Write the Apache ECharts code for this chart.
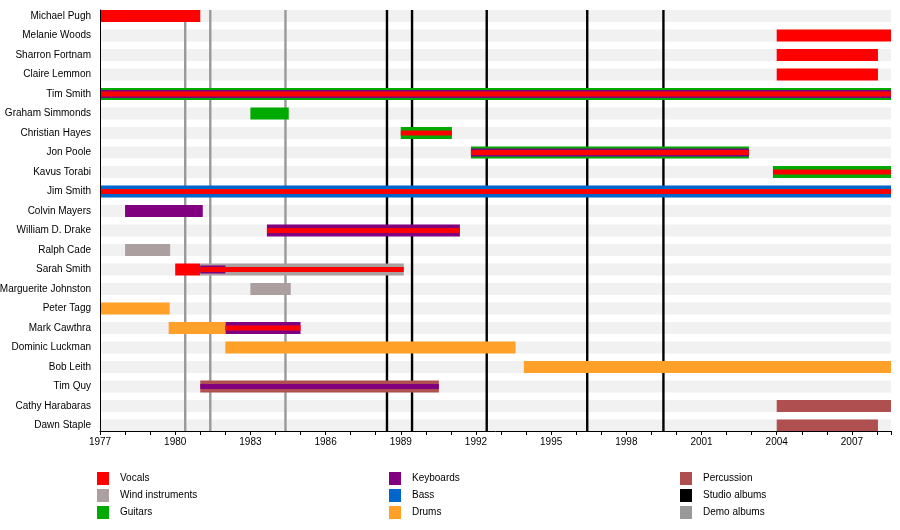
<!DOCTYPE html>
<html>
<head>
<meta charset="utf-8">
<script src="https://cdn.jsdelivr.net/npm/echarts@6/dist/echarts.min.js"></script>
<style>
html,body{margin:0;padding:0;background:#fff;}
#chart{width:900px;height:530px;}
</style>
</head>
<body>
<div id="chart"></div>
<script>
// ---- data ----
const START = 1977;
const END = 2008.56;
const members = ["Michael Pugh","Melanie Woods","Sharron Fortnam","Claire Lemmon","Tim Smith",
  "Graham Simmonds","Christian Hayes","Jon Poole","Kavus Torabi","Jim Smith","Colvin Mayers",
  "William D. Drake","Ralph Cade","Sarah Smith","Marguerite Johnston","Peter Tagg","Mark Cawthra",
  "Dominic Luckman","Bob Leith","Tim Quy","Cathy Harabaras","Dawn Staple"];
const yearTicks = [1977,1980,1983,1986,1989,1992,1995,1998,2001,2004,2007];

// [member, from, to, layer]  layer: 0 = main bar, 1 = middle stripe, 2 = centre stripe
const vocals = [
  ["Michael Pugh",1977,1981.0,0],
  ["Melanie Woods",2004.0,END,0],
  ["Sharron Fortnam",2004.0,2008.04,0],
  ["Claire Lemmon",2004.0,2008.04,0],
  ["Tim Smith",1977,END,2],
  ["Christian Hayes",1989.0,1991.04,2],
  ["Jon Poole",1991.8,2002.89,2],
  ["Kavus Torabi",2003.85,END,2],
  ["Jim Smith",1977,END,2],
  ["William D. Drake",1983.66,1991.36,2],
  ["Sarah Smith",1980.0,1981.0,0],
  ["Sarah Smith",1981.0,1989.12,2],
  ["Mark Cawthra",1982.0,1985.0,2]
];
const wind = [
  ["Ralph Cade",1978.0,1979.8,0],
  ["Sarah Smith",1981.0,1989.12,0],
  ["Marguerite Johnston",1983.0,1984.61,0]
];
const guitars = [
  ["Tim Smith",1977,END,0],
  ["Graham Simmonds",1983.0,1984.53,0],
  ["Christian Hayes",1989.0,1991.04,0],
  ["Jon Poole",1991.8,2002.89,0],
  ["Kavus Torabi",2003.85,END,0]
];
const keyboards = [
  ["Tim Smith",1977,END,1],
  ["Jon Poole",1991.8,2002.89,1],
  ["Colvin Mayers",1978.0,1981.1,0],
  ["William D. Drake",1983.66,1991.36,0],
  ["Sarah Smith",1981.0,1982.0,1],
  ["Mark Cawthra",1982.0,1985.0,0],
  ["Tim Quy",1981.0,1990.52,2]
];
const bass = [
  ["Jim Smith",1977,END,0]
];
const drums = [
  ["Peter Tagg",1977,1979.78,0],
  ["Mark Cawthra",1979.74,1982.0,0],
  ["Dominic Luckman",1982.0,1993.58,0],
  ["Bob Leith",1993.91,END,0]
];
const percussion = [
  ["Tim Quy",1981.0,1990.52,0],
  ["Cathy Harabaras",2004.0,END,0],
  ["Dawn Staple",2004.0,2008.04,0]
];
const studioAlbums = [1988.45,1989.45,1992.43,1996.44,1999.48];
const demoAlbums = [1980.4,1981.4,1984.4];

// ---- styling ----
const FONT = "'Liberation Sans', Arial, Helvetica, sans-serif";
const LAYER_H = [12, 8, 5];
const instruments = [
  {name:"Vocals", data:vocals, color:"#ff0000"},
  {name:"Wind instruments", data:wind, color:"#ab9f9f"},
  {name:"Guitars", data:guitars, color:"#00aa00"},
  {name:"Keyboards", data:keyboards, color:"#800080"},
  {name:"Bass", data:bass, color:"#0066cc"},
  {name:"Drums", data:drums, color:"#ffa028"},
  {name:"Percussion", data:percussion, color:"#b04f4f"}
];

function toRows(list){
  return list.map(d => [members.indexOf(d[0]), d[1], d[2], d[3]]);
}

function barRender(color){
  return function(params, api){
    const r = api.value(0), s = api.value(1), e = api.value(2), layer = api.value(3);
    const p0 = api.coord([s, r]);
    const p1 = api.coord([e, r]);
    const h = LAYER_H[layer];
    return {
      type:'rect',
      shape:{x:p0[0], y:p0[1]-h/2, width:p1[0]-p0[0], height:h},
      style:{fill:color},
      z2: layer*10 + 5
    };
  };
}

function albumRender(color){
  return function(params, api){
    const x = api.value(0);
    const a = api.coord([x, 0]);
    const b = api.coord([x, 1]);
    return {type:'line', shape:{x1:a[0], y1:a[1], x2:b[0], y2:b[1]},
      style:{stroke:color, lineWidth:2.4}};
  };
}

const series = [];
// background stripes
series.push({
  type:'custom', name:'bg', xAxisIndex:0, yAxisIndex:0, z:1, silent:true,
  encode:{x:[1,2], y:0},
  data: members.map((m,i) => [i, START, END, 0]),
  renderItem: barRender('#f1f1f1')
});
// album lines
series.push({
  type:'custom', name:'Studio albums', xAxisIndex:1, yAxisIndex:1, z:2, silent:true,
  itemStyle:{color:'#000000'}, encode:{x:0},
  data: studioAlbums.map(v => [v]),
  renderItem: albumRender('#000000')
});
series.push({
  type:'custom', name:'Demo albums', xAxisIndex:1, yAxisIndex:1, z:2, silent:true,
  itemStyle:{color:'#999999'}, encode:{x:0},
  data: demoAlbums.map(v => [v]),
  renderItem: albumRender('#999999')
});
instruments.forEach(ins => {
  series.push({
    type:'custom', name:ins.name, xAxisIndex:0, yAxisIndex:0, z:3, silent:true,
    itemStyle:{color:ins.color}, encode:{x:[1,2], y:0},
    data: toRows(ins.data),
    renderItem: barRender(ins.color)
  });
});

const legendBase = {
  orient:'vertical', top:472, itemWidth:12, itemHeight:13, itemGap:4, padding:0,
  icon:'rect', selectedMode:false,
  textStyle:{fontFamily:FONT, fontSize:10, color:'#000', padding:[0,0,0,6]}
};

const chart = echarts.init(document.getElementById('chart'), null, {renderer:'canvas'});
chart.setOption({
  animation:false,
  backgroundColor:'#ffffff',
  grid:[
    {left:100, right:9, top:6.25, bottom:94.75, containLabel:false, outerBoundsMode:'none'},
    {left:100, right:9, top:10, bottom:99, containLabel:false, outerBoundsMode:'none'}
  ],
  xAxis:[
    {type:'value', gridIndex:0, min:START, max:END, show:false},
    {type:'value', gridIndex:1, min:START, max:END, interval:3, z:10,
      axisLine:{show:true, lineStyle:{color:'#000', width:1}},
      axisTick:{show:true, length:4, lineStyle:{color:'#000'}},
      minorTick:{show:true, splitNumber:3, length:4, lineStyle:{color:'#000'}},
      splitLine:{show:false},
      axisLabel:{fontFamily:FONT, fontSize:10, color:'#000', margin:6,
        showMaxLabel:false,
        formatter: v => yearTicks.indexOf(v) >= 0 ? String(v) : ''}
    }
  ],
  yAxis:[
    {type:'category', gridIndex:0, data:members, inverse:true,
      axisLine:{show:false}, axisTick:{show:false}, splitLine:{show:false},
      axisLabel:{fontFamily:FONT, fontSize:10, color:'#000', margin:9}
    },
    {type:'value', gridIndex:1, min:0, max:1, z:10,
      axisLine:{show:true, lineStyle:{color:'#000', width:1}},
      axisTick:{show:false}, axisLabel:{show:false}, splitLine:{show:false}
    }
  ],
  legend:[
    Object.assign({}, legendBase, {left:97, data:['Vocals','Wind instruments','Guitars']}),
    Object.assign({}, legendBase, {left:389, data:['Keyboards','Bass','Drums']}),
    Object.assign({}, legendBase, {left:680, data:['Percussion','Studio albums','Demo albums']})
  ],
  series: series
});
</script>
</body>
</html>
